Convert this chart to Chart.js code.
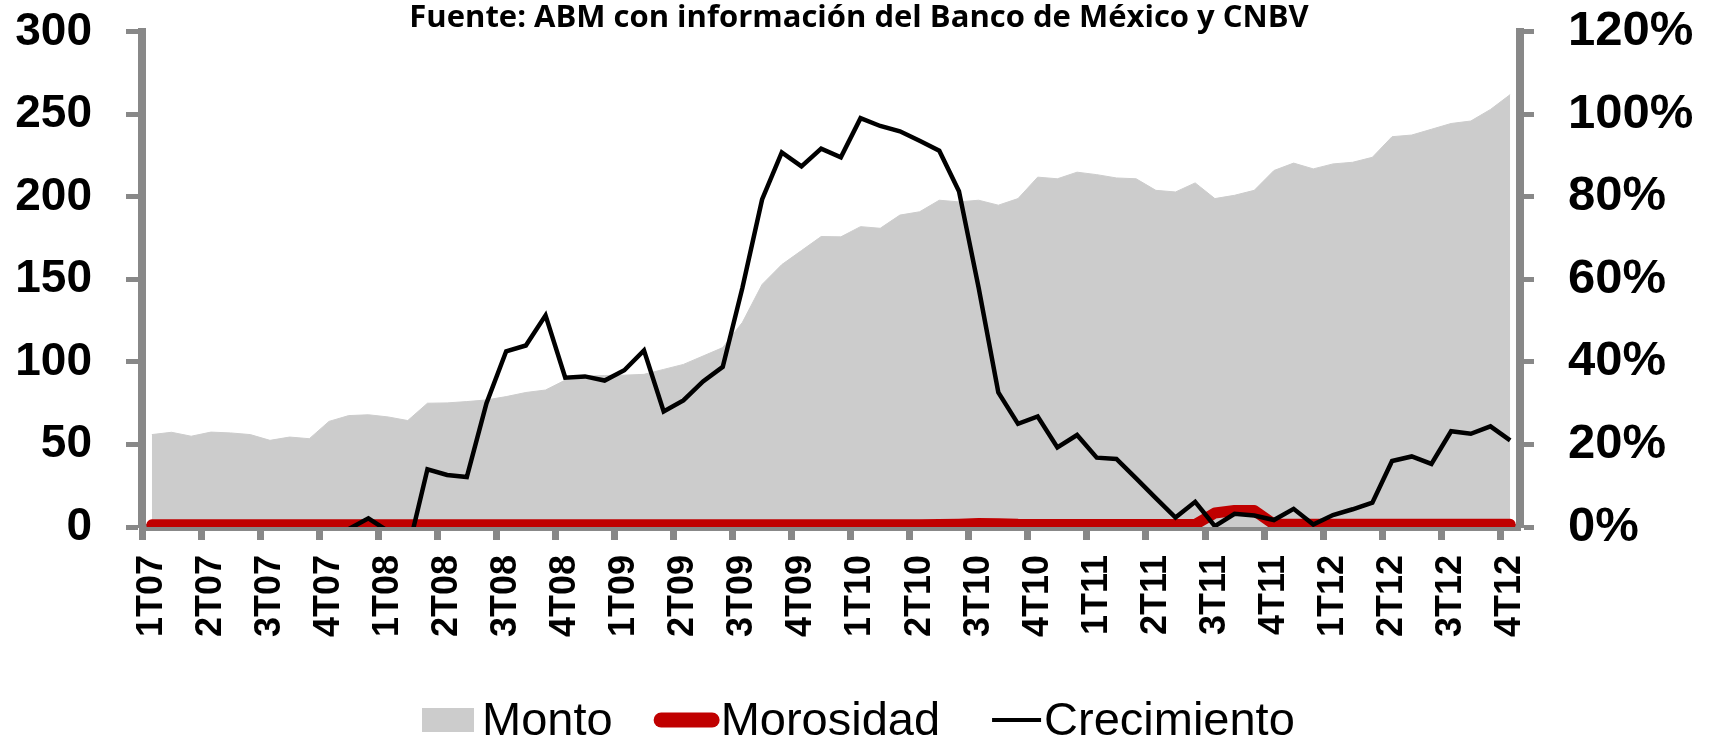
<!DOCTYPE html>
<html>
<head>
<meta charset="utf-8">
<title>Crédito: monto, morosidad y crecimiento</title>
<script src="https://cdn.jsdelivr.net/npm/chart.js@4.4.1/dist/chart.umd.min.js"></script>
<style>
  body { margin: 0; background: #fff; }
</style>
</head>
<body>
<canvas id="credito" width="1718" height="739"></canvas>
<script>
// quarter tick labels, one every three monthly points (Mar-07 .. Dec-12)
const quarterLabels = ['1T07', '2T07', '3T07', '4T07', '1T08', '2T08', '3T08', '4T08',
  '1T09', '2T09', '3T09', '4T09', '1T10', '2T10', '3T10', '4T10',
  '1T11', '2T11', '3T11', '4T11', '1T12', '2T12', '3T12', '4T12'];

// Monto (left axis)
const monto = [56, 57.4, 55, 57.5, 57, 56, 52.5, 54.5, 53.5, 64,
  67.5, 68, 66.7, 64.5, 75, 75.2, 76, 77, 79, 81.5,
  83, 89, 91.4, 91.8, 92, 92.5, 95.5, 98.5, 103.6, 108.7,
  124, 147, 159, 167.5, 176, 175.8, 182, 181, 189, 191,
  198, 197, 198, 195, 199, 212, 211, 215, 213.5, 211.5,
  211, 204, 203, 208.5, 199, 201, 204, 216, 220.5, 217,
  220, 221, 224, 236.5, 237.5, 241, 244.5, 246, 253, 262];

// Morosidad (left axis)
const morosidad = [1.3, 1.3, 1.3, 1.3, 1.3, 1.3, 1.3, 1.3, 1.3, 1.3,
  1.3, 1.3, 1.3, 1.3, 1.3, 1.3, 1.3, 1.3, 1.3, 1.3,
  1.3, 1.3, 1.3, 1.3, 1.3, 1.3, 1.3, 1.3, 1.3, 1.3,
  1.3, 1.3, 1.3, 1.3, 1.3, 1.3, 1.3, 1.3, 1.3, 1.4,
  1.5, 1.7, 2.1, 2.0, 1.6, 1.5, 1.5, 1.5, 1.5, 1.5,
  1.5, 1.5, 1.5, 1.5, 8.5, 10, 10, 1.6, 1.6, 1.6,
  1.6, 1.6, 1.6, 1.6, 1.6, 1.6, 1.6, 1.6, 1.6, 1.6];

// Crecimiento (right axis, %); first months sit below the axis and are not visible
const crecimiento = [null, null, null, null, null, null, null, null, null, null,
  -0.5, 2.1, -1, -6, 14, 12.6, 12.1, 30, 42.6, 44,
  51.3, 36.2, 36.5, 35.5, 38, 42.8, 28, 30.7, 35.3, 38.8,
  58, 79.4, 90.8, 87.4, 91.7, 89.6, 99.1, 97.2, 95.9, 93.6,
  91.2, 81.4, 58, 32.6, 25, 26.8, 19.3, 22.3, 16.8, 16.5,
  11.8, 7, 2.3, 6.1, 0.2, 3.2, 2.8, 1.7, 4.4, 0.6,
  2.9, 4.3, 5.9, 16, 17.1, 15.3, 23.2, 22.6, 24.4, 21];

const categories = monto.map((v, i) => (i % 3 === 0 ? quarterLabels[i / 3] : ''));

const axisGray = '#888888';
const arial = '"Liberation Sans", Arial, sans-serif';
const arialNarrow = '"Liberation Sans Narrow", "Arial Narrow", "Liberation Sans", Arial, sans-serif';

// legend drawn in one row under the axis labels
const legendRow = {
  id: 'legendRow',
  afterDraw(chart, args, opts) {
    const ctx = chart.ctx;
    ctx.save();
    ctx.font = '47px ' + arial;
    ctx.textBaseline = 'alphabetic';
    let x = opts.x;
    opts.items.forEach((it, i) => {
      const ds = chart.data.datasets[i];
      if (it.kind === 'box') {
        ctx.fillStyle = ds.backgroundColor;
        ctx.fillRect(x, opts.y - it.h / 2, it.w, it.h);
      } else {
        const pad = it.cap === 'round' ? it.lw / 2 : 0;
        ctx.strokeStyle = ds.borderColor;
        ctx.lineWidth = it.lw;
        ctx.lineCap = it.cap;
        ctx.beginPath();
        ctx.moveTo(x + pad, opts.y);
        ctx.lineTo(x + it.w - pad, opts.y);
        ctx.stroke();
      }
      x += it.w + it.gap;
      ctx.fillStyle = '#000';
      ctx.fillText(ds.label, x, opts.baseline);
      x += ctx.measureText(ds.label).width + (it.after || 0);
    });
    ctx.restore();
  }
};

// fixed axis sizes so the plot area sits where the original one does
function fixWidth(w) {
  return (scale) => {
    scale.width = w;
    scale.paddingTop = 0;
    scale.paddingBottom = 0;
  };
}

new Chart(document.getElementById('credito'), {
  type: 'line',
  data: {
    labels: categories,
    datasets: [
      {
        label: 'Monto',
        data: monto,
        yAxisID: 'y',
        order: 3,
        fill: 'origin',
        backgroundColor: '#CCCCCC',
        borderColor: '#CCCCCC',
        borderWidth: 1,
        pointRadius: 0,
        tension: 0,
      },
      {
        label: 'Morosidad',
        data: morosidad,
        yAxisID: 'y',
        order: 2,
        borderColor: '#C00000',
        borderWidth: 11,
        borderCapStyle: 'round',
        borderJoinStyle: 'round',
        pointRadius: 0,
        tension: 0,
      },
      {
        label: 'Crecimiento',
        data: crecimiento,
        yAxisID: 'y2',
        order: 1,
        borderColor: '#000000',
        borderWidth: 4.5,
        pointRadius: 0,
        tension: 0,
      },
    ],
  },
  options: {
    responsive: false,
    animation: false,
    events: [],
    layout: { padding: 0 },
    scales: {
      x: {
        offset: true,
        ticks: {
          autoSkip: false,
          maxRotation: 90,
          minRotation: 90,
          padding: 15,
          color: '#000',
          font: { family: arialNarrow, size: 36, weight: 'bold' },
        },
        grid: {
          offset: true,
          drawOnChartArea: false,
          tickLength: 13,
          tickWidth: 7,
          tickColor: (ctx) => (ctx.index % 3 === 0 ? axisGray : 'rgba(0,0,0,0)'),
        },
        border: { color: axisGray, width: 7 },
        afterFit(scale) { scale.height = 212; },
      },
      y: {
        position: 'left',
        min: 0,
        max: 300,
        ticks: {
          stepSize: 50,
          padding: 34,
          color: '#000',
          font: { family: arial, size: 46, weight: 'bold' },
        },
        grid: { drawOnChartArea: false, tickLength: 16, tickWidth: 5, tickColor: axisGray },
        border: { color: axisGray, width: 8, z: 1 },
        afterFit: fixWidth(142),
      },
      y2: {
        position: 'right',
        min: 0,
        max: 120,
        ticks: {
          stepSize: 20,
          padding: 34,
          color: '#000',
          font: { family: arial, size: 49, weight: 'bold' },
          callback: (v) => v + '%',
        },
        grid: { drawOnChartArea: false, tickLength: 14, tickWidth: 5, tickColor: axisGray },
        border: { color: axisGray, width: 8, z: 1 },
        afterFit: fixWidth(198),
      },
    },
    plugins: {
      legend: { display: false },
      tooltip: { enabled: false },
      title: {
        display: true,
        text: 'Fuente: ABM con información del Banco de México y CNBV',
        color: '#000',
        font: { family: '"Open Sans", Lato, sans-serif', size: 31, weight: 'bold', lineHeight: 0.9 },
        padding: { top: 4, bottom: 0 },
      },
      legendRow: {
        x: 422,
        y: 720,
        baseline: 735,
        items: [
          { kind: 'box', w: 52, h: 24, gap: 8, after: 41 },
          { kind: 'line', w: 66, lw: 15, cap: 'round', gap: 1, after: 52 },
          { kind: 'line', w: 49, lw: 4, cap: 'butt', gap: 3 },
        ],
      },
    },
  },
  plugins: [legendRow],
});
</script>
</body>
</html>
